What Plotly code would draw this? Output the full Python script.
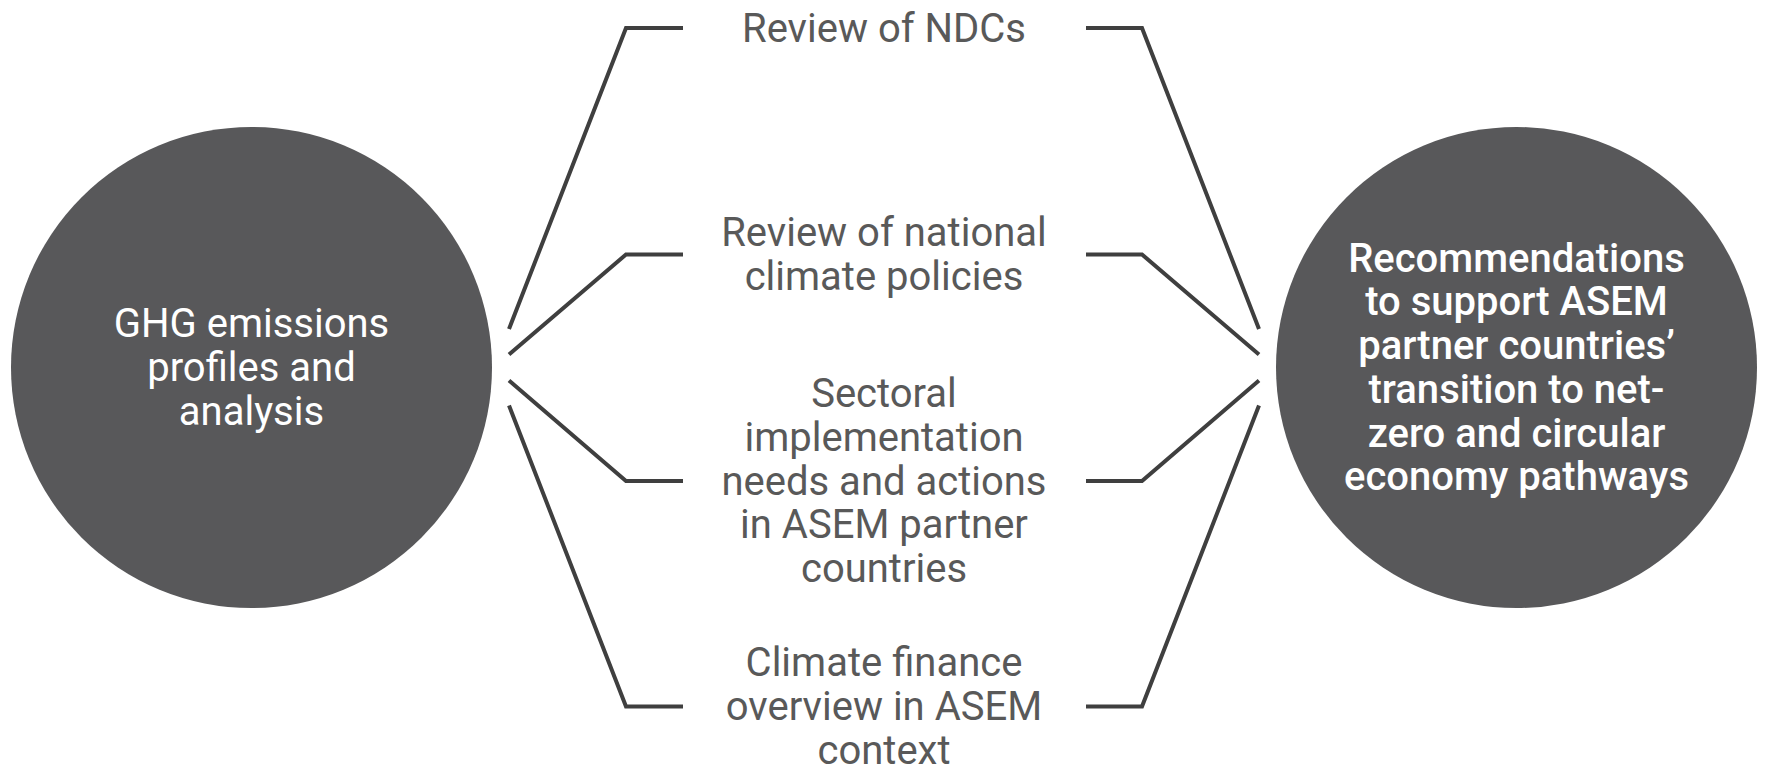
import plotly.graph_objects as go

# ---- data (text content) ----
left_label = ["GHG emissions", "profiles and", "analysis"]
right_label = ["Recommendations", "to support ASEM", "partner countries\u2019",
               "transition to net-", "zero and circular", "economy pathways"]
middle_labels = [
    ["Review of NDCs"],
    ["Review of national", "climate policies"],
    ["Sectoral", "implementation", "needs and actions", "in ASEM partner", "countries"],
    ["Climate finance", "overview in ASEM", "context"],
]

# ---- layout constants (pixel space of the 1766x767 canvas) ----
W, H = 1766, 767
CIRCLE_R = 240.5
LEFT_C = (251.5, 367.5)
RIGHT_C = (1516.5, 367.5)
MID_X = 884
ROW_Y = [28, 254.5, 481, 706.5]
END_Y = [329, 354.5, 380.5, 405.5]
X_END_L, X_CORNER_L, X_TEXT_L = 509, 626, 683
X_TEXT_R, X_CORNER_R, X_END_R = 1086, 1142, 1259
LINE_H = 43.7
TEXT_DY = 3.5
FONT_SIZE = 40

CIRCLE_COLOR = "#58585a"
LINE_COLOR = "#3f3f3f"
TEXT_COLOR = "#595959"
FONT = "Roboto"

fig = go.Figure()

# connector polylines
for ry, ey in zip(ROW_Y, END_Y):
    fig.add_trace(go.Scatter(x=[X_END_L, X_CORNER_L, X_TEXT_L], y=[ey, ry, ry],
                             mode="lines", line=dict(color=LINE_COLOR, width=4),
                             hoverinfo="skip", showlegend=False))
    fig.add_trace(go.Scatter(x=[X_TEXT_R, X_CORNER_R, X_END_R], y=[ry, ry, ey],
                             mode="lines", line=dict(color=LINE_COLOR, width=4),
                             hoverinfo="skip", showlegend=False))

# circles
for cx, cy in (LEFT_C, RIGHT_C):
    fig.add_shape(type="circle", xref="x", yref="y",
                  x0=cx - CIRCLE_R, x1=cx + CIRCLE_R, y0=cy - CIRCLE_R, y1=cy + CIRCLE_R,
                  fillcolor=CIRCLE_COLOR, line=dict(width=0), layer="below")


def text_block(lines, cx, cy, color, weight, size):
    n = len(lines)
    ys = [cy + TEXT_DY + (k - (n - 1) / 2) * LINE_H for k in range(n)]
    fig.add_trace(go.Scatter(x=[cx] * n, y=ys, mode="text", text=lines,
                             textposition="middle center", cliponaxis=False,
                             textfont=dict(family=FONT, size=size, color=color, weight=weight),
                             hoverinfo="skip", showlegend=False))


for lines, ry in zip(middle_labels, ROW_Y):
    text_block(lines, MID_X, ry, TEXT_COLOR, 400, FONT_SIZE)

text_block(left_label, LEFT_C[0], LEFT_C[1], "white", 400, FONT_SIZE)
text_block(right_label, RIGHT_C[0], RIGHT_C[1], "white", 500, FONT_SIZE)

fig.update_layout(
    width=W, height=H,
    margin=dict(l=0, r=0, t=0, b=0),
    paper_bgcolor="white", plot_bgcolor="white",
    xaxis=dict(range=[0, W], visible=False, fixedrange=True),
    yaxis=dict(range=[H, 0], visible=False, fixedrange=True),
    showlegend=False,
)

fig.write_html(
    "out.html",
    config={"displayModeBar": False},
    post_script="document.body.style.margin='0';document.body.style.overflow='hidden';",
)
